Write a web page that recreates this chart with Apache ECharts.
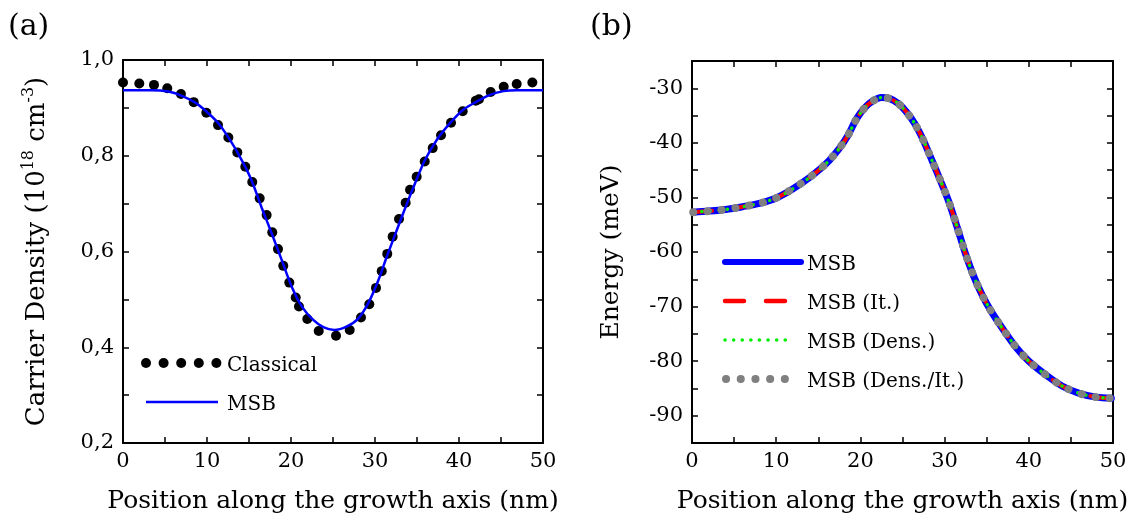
<!DOCTYPE html>
<html><head><meta charset="utf-8">
<script src="https://cdn.jsdelivr.net/npm/echarts@6.0.0/dist/echarts.min.js"></script>
<style>html,body{margin:0;padding:0;background:#fff}#c{width:1145px;height:525px}</style>
</head><body><div id="c"></div>
<script>
const FONT = 'DejaVu Serif';

// Panel (a): carrier density
const classicalX = [0, 1.94, 3.69, 5.27, 6.9, 8.42, 9.92, 11.31, 12.54, 13.61, 14.56, 15.39, 16.27, 17.1, 17.77, 18.45, 19.08, 19.8, 20.56, 20.95, 21.94, 23.3, 25.36, 26.99, 28.33, 29.32, 30.12, 30.8, 31.46, 32.1, 32.86, 33.65, 34.17, 34.96, 35.92, 36.87, 37.86, 39.05, 40.44, 41.99, 42.38, 43.77, 45.32, 46.87, 48.73];
const classicalY = [0.953, 0.951, 0.948, 0.941, 0.929, 0.912, 0.890, 0.864, 0.838, 0.807, 0.777, 0.745, 0.711, 0.676, 0.640, 0.605, 0.570, 0.535, 0.504, 0.485, 0.459, 0.434, 0.424, 0.436, 0.462, 0.490, 0.524, 0.559, 0.595, 0.631, 0.668, 0.702, 0.729, 0.756, 0.788, 0.816, 0.843, 0.869, 0.893, 0.915, 0.918, 0.933, 0.944, 0.950, 0.953];
const msbDensX = [0, 3.4, 5.4, 7, 8.6, 9.96, 11.35, 12.74, 14.13, 15.3, 16.5, 17.7, 18.9, 20.1, 21.3, 22.65, 23.85, 25.15, 26.6, 28.0, 29.2, 30.4, 31.4, 32.6, 33.8, 34.76, 35.95, 37.35, 38.93, 40.5, 42.1, 43.7, 45.3, 46.9, 50];
const msbDensY = [0.937, 0.937, 0.934, 0.925, 0.911, 0.892, 0.868, 0.833, 0.791, 0.749, 0.692, 0.638, 0.582, 0.526, 0.485, 0.457, 0.442, 0.436, 0.443, 0.460, 0.492, 0.540, 0.589, 0.645, 0.700, 0.742, 0.791, 0.833, 0.868, 0.896, 0.913, 0.927, 0.935, 0.937, 0.937];

// Panel (b): energy (all four calculations coincide)
const energyX = [0.15, 2, 4, 6, 8, 10, 12, 14, 16, 17.5, 18.5, 19.5, 20.5, 21.5, 22.5, 23.5, 24.5, 25.5, 26.5, 27.5, 28.5, 29.5, 30.5, 31.5, 32.5, 33.5, 34.5, 35.5, 37, 38.5, 40, 42, 44, 46, 48, 49.8];
const energyMSB = [-52.7, -52.5, -52.2, -51.7, -51.1, -50.1, -48.4, -46.3, -43.7, -41.0, -38.7, -35.7, -33.6, -32.3, -31.7, -31.9, -32.8, -34.4, -36.6, -39.6, -43.2, -46.9, -50.8, -55.5, -60.4, -64.6, -68.0, -70.8, -74.3, -77.5, -80.0, -82.5, -84.6, -85.9, -86.6, -86.8];
const energyIt = energyMSB;
const energyDens = energyMSB;
const energyDensIt = energyMSB;

const xTickStep = 10;
const pairs = (xs, ys) => xs.map((x, i) => [x, ys[i]]);

function axis(o) {
  return Object.assign({
    type: 'value',
    axisLine: { show: true, onZero: false, lineStyle: { color: '#000', width: 2 } },
    axisTick: { show: true, inside: true, length: 6, lineStyle: { color: '#000', width: 1.5 } },
    minorTick: { show: o.minor !== false, splitNumber: 2, length: 6, lineStyle: { color: '#000', width: 1.5 } },
    splitLine: { show: false },
    minorSplitLine: { show: false },
    axisLabel: { show: o.labels !== false, color: '#000', fontFamily: FONT, fontSize: 21, margin: o.margin || 8, formatter: o.formatter },
    nameMoveOverlap: false
  }, o.extra || {});
}

const chart = echarts.init(document.getElementById('c'), null, { renderer: 'canvas' });

const legendA = [];
for (let i = 0; i < 5; i++) legendA.push({ type: 'circle', shape: { cx: 146 + i * 17.6, cy: 363, r: 5 }, style: { fill: '#000' } });
legendA.push({ type: 'line', shape: { x1: 146, y1: 402, x2: 218, y2: 402 }, style: { stroke: '#0000ff', lineWidth: 2.5 } });
legendA.push({ type: 'text', x: 227, y: 366, style: { text: 'Classical', fontFamily: FONT, fontSize: 20, fill: '#000', verticalAlign: 'middle' } });
legendA.push({ type: 'text', x: 227, y: 405, style: { text: 'MSB', fontFamily: FONT, fontSize: 20, fill: '#000', verticalAlign: 'middle' } });

const legendB = [
  { type: 'line', shape: { x1: 725, y1: 262, x2: 801, y2: 262 }, style: { stroke: '#0000ff', lineWidth: 6, lineCap: 'round' } },
  { type: 'line', shape: { x1: 725, y1: 301, x2: 787, y2: 301 }, style: { stroke: '#ff0000', lineWidth: 4.5, lineCap: 'round', lineDash: [19, 22] } },
  { type: 'line', shape: { x1: 725, y1: 340, x2: 793.5, y2: 340 }, style: { stroke: '#00ee00', lineWidth: 3.5, lineCap: 'round', lineDash: [0.1, 8.5] } },
  { type: 'line', shape: { x1: 726, y1: 379, x2: 785, y2: 379 }, style: { stroke: '#808080', lineWidth: 8, lineCap: 'round', lineDash: [0.1, 14.6] } },
  { type: 'text', x: 807, y: 265, style: { text: 'MSB', fontFamily: FONT, fontSize: 20, fill: '#000', verticalAlign: 'middle' } },
  { type: 'text', x: 807, y: 304, style: { text: 'MSB (It.)', fontFamily: FONT, fontSize: 20, fill: '#000', verticalAlign: 'middle' } },
  { type: 'text', x: 807, y: 343, style: { text: 'MSB (Dens.)', fontFamily: FONT, fontSize: 20, fill: '#000', verticalAlign: 'middle' } },
  { type: 'text', x: 807, y: 382, style: { text: 'MSB (Dens./It.)', fontFamily: FONT, fontSize: 20, fill: '#000', verticalAlign: 'middle' } }
];

const panelLabels = [
  { type: 'text', x: 8, y: 27, style: { text: '(a)', fontFamily: FONT, fontSize: 30, fill: '#000', verticalAlign: 'middle' } },
  { type: 'text', x: 590, y: 27, style: { text: '(b)', fontFamily: FONT, fontSize: 30, fill: '#000', verticalAlign: 'middle' } }
];

const nameStyle = { fontFamily: FONT, fontSize: 25, color: '#000' };

chart.setOption({
  animation: false,
  backgroundColor: '#fff',
  grid: [
    { left: 123, top: 60, width: 420, height: 383, containLabel: false, outerBoundsMode: 'none' },
    { left: 692, top: 61, width: 421, height: 382, containLabel: false, outerBoundsMode: 'none' }
  ],
  xAxis: [
    axis({ extra: { gridIndex: 0, position: 'bottom', min: 0, max: 50, interval: xTickStep, name: 'Position along the growth axis (nm)', nameLocation: 'middle', nameGap: 46, nameTextStyle: nameStyle } }),
    axis({ labels: false, extra: { gridIndex: 0, position: 'top', min: 0, max: 50, interval: xTickStep } }),
    axis({ extra: { gridIndex: 1, position: 'bottom', min: 0, max: 50, interval: xTickStep, name: 'Position along the growth axis (nm)', nameLocation: 'middle', nameGap: 46, nameTextStyle: nameStyle } }),
    axis({ labels: false, extra: { gridIndex: 1, position: 'top', min: 0, max: 50, interval: xTickStep } })
  ],
  yAxis: [
    axis({ margin: 9, formatter: v => v.toFixed(1).replace('.', ','), extra: {
      gridIndex: 0, position: 'left', min: 0.2, max: 1.0, interval: 0.2,
      name: '{n|Carrier Density (10}{s|18}{n| cm}{s|-3}{n|)}', nameLocation: 'middle', nameRotate: 90, nameGap: 70,
      nameTextStyle: { fontFamily: FONT, fontSize: 26, color: '#000', rich: {
        n: { fontFamily: FONT, fontSize: 26, color: '#000', lineHeight: 32 },
        s: { fontFamily: FONT, fontSize: 16, color: '#000', lineHeight: 16, verticalAlign: 'top' }
      } }
    } }),
    axis({ labels: false, extra: { gridIndex: 0, position: 'right', min: 0.2, max: 1.0, interval: 0.2 } }),
    axis({ margin: 9, minor: false, formatter: v => (Math.round(v) % 10 === 0 ? String(Math.round(v)) : ''), extra: {
      gridIndex: 1, position: 'left', min: -95, max: -25, interval: 5,
      name: 'Energy (meV)', nameLocation: 'middle', nameRotate: 90, nameGap: 68, nameTextStyle: nameStyle
    } }),
    axis({ labels: false, minor: false, extra: { gridIndex: 1, position: 'right', min: -95, max: -25, interval: 5 } })
  ],
  series: [
    { name: 'Classical', type: 'scatter', xAxisIndex: 0, yAxisIndex: 0, data: pairs(classicalX, classicalY), symbol: 'circle', symbolSize: 10, itemStyle: { color: '#000', opacity: 1 }, clip: false, z: 2 },
    { name: 'MSB', type: 'line', xAxisIndex: 0, yAxisIndex: 0, data: pairs(msbDensX, msbDensY), smooth: 0.3, showSymbol: false, lineStyle: { color: '#0000ff', width: 2.5 }, z: 3 },
    { name: 'MSB', type: 'line', xAxisIndex: 2, yAxisIndex: 2, data: pairs(energyX, energyMSB), smooth: 0.3, showSymbol: false, lineStyle: { color: '#0000ff', width: 7, cap: 'round' }, z: 2 },
    { name: 'MSB (It.)', type: 'line', xAxisIndex: 2, yAxisIndex: 2, data: pairs(energyX, energyIt), smooth: 0.3, showSymbol: false, lineStyle: { color: '#ff0000', width: 4, type: [19, 22], cap: 'round' }, z: 3 },
    { name: 'MSB (Dens.)', type: 'line', xAxisIndex: 2, yAxisIndex: 2, data: pairs(energyX, energyDens), smooth: 0.3, showSymbol: false, lineStyle: { color: '#00ee00', width: 3.5, type: [0.1, 8.5], cap: 'round' }, z: 4 },
    { name: 'MSB (Dens./It.)', type: 'line', xAxisIndex: 2, yAxisIndex: 2, data: pairs(energyX, energyDensIt), smooth: 0.3, showSymbol: false, lineStyle: { color: '#808080', width: 8, type: [0.1, 14], cap: 'round' }, z: 5 }
  ],
  graphic: [].concat(legendA, legendB, panelLabels)
});
</script></body></html>
